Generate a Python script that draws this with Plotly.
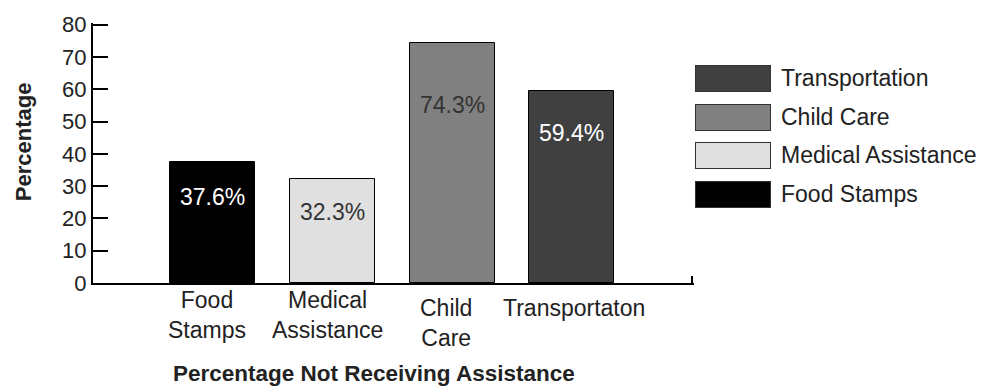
import plotly.graph_objects as go

# Share of respondents not receiving each kind of assistance
categories = ["Food Stamps", "Medical Assistance", "Child Care", "Transportation"]
axis_labels = ["Food<br>Stamps", "Medical<br>Assistance", "Child<br>Care", "Transportaton"]
values = [37.6, 32.3, 74.3, 59.4]
value_labels = ["37.6%", "32.3%", "74.3%", "59.4%"]
y_ticks = [0, 10, 20, 30, 40, 50, 60, 70, 80]

# Styling
bar_colors = ["#000000", "#e0e0e0", "#808080", "#404040"]
label_colors = ["#ffffff", "#333333", "#333333", "#ffffff"]
label_drop = [-35, -33, -62, -42]          # px below bar top (label centre)
cat_xshift = [-6, -5, -6, 2]
cat_yshift = [-2, -2, -10, -10]
FONT = "Arial, Liberation Sans, sans-serif"
TEXT = "#222222"

# plot-area geometry (pixels) used to place legend items in paper units
W, H = 989, 387
M_L, M_R, M_T, M_B = 93, 294.6, 19, 104
PW = W - M_L - M_R
PH = H - M_T - M_B


def px_x(px):
    return (px - M_L) / PW


def px_y(py):
    return (H - M_B - py) / PH


fig = go.Figure()
positions = list(range(len(categories)))
for i, (cat, val, col) in enumerate(zip(categories, values, bar_colors)):
    fig.add_trace(go.Bar(
        x=[positions[i]], y=[val], name=cat, width=0.71,
        marker=dict(color=col, line=dict(color="#000000", width=1)),
        showlegend=False, hoverinfo="skip",
    ))

annotations = []
# value labels inside the bars
for i, (val, txt, col) in enumerate(zip(values, value_labels, label_colors)):
    annotations.append(dict(
        x=positions[i], y=val, xref="x", yref="y", text=txt, showarrow=False,
        yanchor="middle", yshift=label_drop[i],
        font=dict(family=FONT, size=23, color=col),
    ))
# category labels under the axis
for i, txt in enumerate(axis_labels):
    annotations.append(dict(
        x=positions[i], y=0, xref="x", yref="paper", text=txt, showarrow=False,
        yanchor="top", xanchor="center", xshift=cat_xshift[i], yshift=cat_yshift[i],
        font=dict(family=FONT, size=23, color=TEXT),
    ))
# axis titles
annotations.append(dict(
    x=px_x(374), y=px_y(375), xref="paper", yref="paper", showarrow=False,
    xanchor="center", yanchor="middle",
    text="<b>Percentage Not Receiving Assistance</b>",
    font=dict(family=FONT, size=22.5, color=TEXT),
))
annotations.append(dict(
    x=px_x(23), y=px_y(140), xref="paper", yref="paper", showarrow=False,
    xanchor="center", yanchor="middle",
    text="<b>Percentage</b>", textangle=-90,
    font=dict(family=FONT, size=22, color=TEXT),
))

# legend: large boxed swatches with names, top entry is the last series
legend_centres = [75, 114.5, 153.5, 193]
for row, idx in enumerate(reversed(positions)):
    cy = px_y(legend_centres[row])
    annotations.append(dict(
        x=px_x(695), y=cy, xref="paper", yref="paper", showarrow=False,
        text=" ", width=74, height=25, xanchor="left", yanchor="middle",
        bgcolor=bar_colors[idx], bordercolor="#333333", borderwidth=1, borderpad=0,
        font=dict(family=FONT, size=10, color=bar_colors[idx]),
    ))
    annotations.append(dict(
        x=px_x(779), y=cy, xref="paper", yref="paper", showarrow=False,
        text=categories[idx], xanchor="left", yanchor="middle",
        font=dict(family=FONT, size=23, color=TEXT),
    ))

fig.update_layout(
    width=W, height=H,
    margin=dict(l=M_L, r=M_R, t=M_T, b=M_B),
    paper_bgcolor="#ffffff", plot_bgcolor="#ffffff",
    bargap=0, showlegend=False,
    annotations=annotations,
)
fig.update_xaxes(
    range=[-1, 4.02], tickvals=[4], showticklabels=False,
    ticks="inside", ticklen=7, tickwidth=2, tickcolor="#000000",
    showline=True, linecolor="#000000", linewidth=2,
    showgrid=False, zeroline=False,
)
fig.update_yaxes(
    range=[0, 80.5], tickvals=y_ticks,
    ticks="inside", ticklen=15, tickwidth=2, tickcolor="#000000",
    showline=True, linecolor="#000000", linewidth=2,
    showgrid=False, zeroline=False,
    tickfont=dict(family=FONT, size=22, color=TEXT),
)

fig.write_html("out.html")
